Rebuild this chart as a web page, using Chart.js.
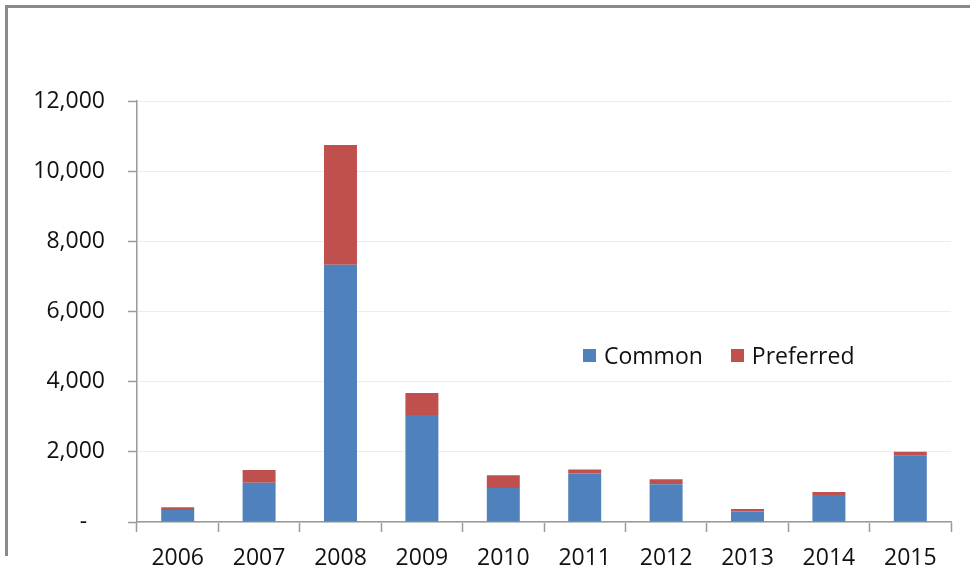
<!DOCTYPE html>
<html>
<head>
<meta charset="utf-8">
<script src="https://cdn.jsdelivr.net/npm/chart.js@4/dist/chart.umd.min.js"></script>
<style>
  html, body { margin: 0; padding: 0; background: #fff; overflow: hidden; }
  #wrap { position: relative; width: 970px; height: 569px; }
  #frame {
    position: absolute; left: 5px; top: 5px; width: 980px; height: 551px;
    border-top: 3px solid #8a8a8a; border-left: 3px solid #8a8a8a;
    box-sizing: border-box; pointer-events: none;
  }
  canvas { position: absolute; left: 0; top: 0; }
  #legend {
    position: absolute; left: 583px; top: 339px; display: flex; align-items: center;
    font-family: "Open Sans", sans-serif; font-size: 23px; color: #111;
  }
  #legend .item { display: flex; align-items: center; margin-right: 28px; }
  #legend .sw { width: 13px; height: 13px; margin-right: 8px; }
</style>
</head>
<body>
<div id="wrap">
  <canvas id="c" width="970" height="569"></canvas>
  <div id="frame"></div>
  <div id="legend"></div>
</div>
<script>
const years = ["2006", "2007", "2008", "2009", "2010", "2011", "2012", "2013", "2014", "2015"];
const common = [340, 1120, 7335, 3050, 970, 1380, 1075, 300, 770, 1890];
const preferred = [80, 360, 3410, 630, 360, 115, 140, 70, 85, 115];
const seriesNames = ["Common", "Preferred"];
const seriesColors = ["#4F81BD", "#C0504D"];

const font = { family: "'Open Sans', sans-serif", size: 23 };

new Chart(document.getElementById("c"), {
  type: "bar",
  data: {
    labels: years,
    datasets: [
      { label: seriesNames[0], data: common, backgroundColor: seriesColors[0] },
      { label: seriesNames[1], data: preferred, backgroundColor: seriesColors[1] }
    ]
  },
  options: {
    responsive: false,
    animation: false,
    layout: { padding: { left: 0, right: 19, top: 101, bottom: 0 } },
    datasets: { bar: { categoryPercentage: 1, barPercentage: 0.405 } },
    plugins: { legend: { display: false }, tooltip: { enabled: false } },
    scales: {
      x: {
        stacked: true,
        grid: { drawOnChartArea: false, drawTicks: true, tickLength: 10, tickColor: "#9a9a9a", tickWidth: 1.5, offset: true },
        border: { color: "#9a9a9a", width: 1.5 },
        ticks: { color: "#111", font: font, padding: 13, maxRotation: 0 },
        afterFit: s => { s.height = 47; }
      },
      y: {
        stacked: true,
        min: 0, max: 12000,
        grid: { color: "#ececec", lineWidth: 1, tickLength: 9, tickColor: "#9a9a9a", tickWidth: 1.5 },
        border: { color: "#9a9a9a", width: 1.5 },
        ticks: {
          stepSize: 2000, color: "#111", font: font, padding: 23,
          callback: v => v === 0 ? "-   " : v.toLocaleString("en-US")
        },
        afterFit: s => { s.width = 137; }
      }
    }
  }
});

const legend = document.getElementById("legend");
seriesNames.forEach((name, i) => {
  const item = document.createElement("div");
  item.className = "item";
  const sw = document.createElement("span");
  sw.className = "sw";
  sw.style.background = seriesColors[i];
  const t = document.createElement("span");
  t.textContent = name;
  item.appendChild(sw);
  item.appendChild(t);
  legend.appendChild(item);
});
</script>
</body>
</html>
